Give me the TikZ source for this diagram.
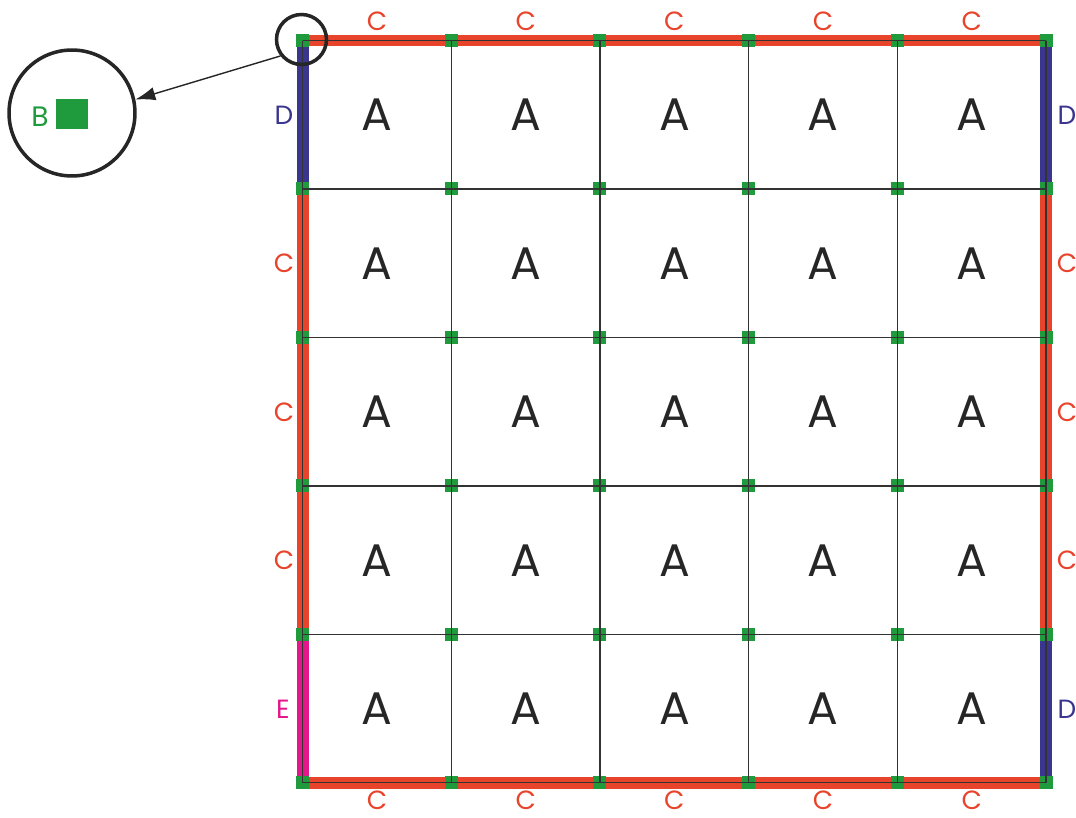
\documentclass[tikz,border=0pt]{standalone}
\usepackage{fontspec}
\setmainfont{Poppins}
\usetikzlibrary{arrows.meta}
\definecolor{cred}{HTML}{E8432B}
\definecolor{cblue}{HTML}{3A3690}
\definecolor{cpink}{HTML}{E5168B}
\definecolor{cgreen}{HTML}{1F9B3E}

\begin{document}
\begin{tikzpicture}[x=0.02cm,y=-0.02cm,
	band/.style={line width=0.24cm,draw=#1},
	gridline/.style={line width=0.8pt,draw=black!80},
	jnt/.style={fill=cgreen,inner sep=0pt,minimum size=0.26cm},
	cell/.style={font=\fontsize{26}{26}\selectfont,text=black!85},
	tag/.style={font=\fontsize{15}{15}\selectfont,text=#1,inner sep=0pt},
	lens/.style={circle,draw=black!85,line width=2pt,inner sep=0pt,minimum size=#1}]
	\useasboundingbox (0,0) rectangle (1076,818);
	% grid points
	\foreach \i in {0,...,5}
		\foreach \j in {0,...,5}
			\coordinate (p\i\j) at ({302.5+148.7*\i},{40.5+148.45*\j});
	% outer bands
	\draw[band=cred] (p00) -- (p50);
	\draw[band=cred] (p05) -- (p55);
	\draw[band=cblue] (p00) -- (p01);
	\draw[band=cred] (p01) -- (p04);
	\draw[band=cpink] (p04) -- (p05);
	\draw[band=cblue] (p50) -- (p51);
	\draw[band=cred] (p51) -- (p54);
	\draw[band=cblue] (p54) -- (p55);
	% joints
	\foreach \i in {0,...,5}
		\foreach \j in {0,...,5}
			\node[jnt] (j\i\j) at (p\i\j) {};
	% grid lines
	\foreach \i in {0,...,5} {
		\draw[gridline] (p\i0) -- (p\i5);
		\draw[gridline] (p0\i) -- (p5\i);
	}
	% cells
	\foreach \i in {0,...,4}
		\foreach \j in {0,...,4}
			\node[cell] (a\i\j) at ({377+148.7*\i},{115+148.45*\j}) {A};
	% edge tags
	\foreach \i in {0,...,4} {
		\node[tag=cred] (ctop\i) at ({377+148.7*\i},21) {C};
		\node[tag=cred] (cbot\i) at ({377+148.7*\i},800) {C};
	}
	\node[tag=cblue] (lft0) at (284,115) {D};
	\node[tag=cred] (lft1) at (284,263.5) {C};
	\node[tag=cred] (lft2) at (284,412) {C};
	\node[tag=cred] (lft3) at (284,560.5) {C};
	\node[tag=cpink] (lft4) at (283,709) {E};
	\node[tag=cblue] (rgt0) at (1067,115) {D};
	\node[tag=cred] (rgt1) at (1067,263.5) {C};
	\node[tag=cred] (rgt2) at (1067,412) {C};
	\node[tag=cred] (rgt3) at (1067,560.5) {C};
	\node[tag=cblue] (rgt4) at (1067,709) {D};
	% detail lens
	\node[lens=1.0cm] (zoomsrc) at (301.5,39.5) {};
	\node[lens=2.52cm] (zoombig) at (72,113) {};
	\node[fill=cgreen,inner sep=0pt,minimum width=0.64cm,minimum height=0.6cm] (bsq) at (72,114) {};
	\node[tag=cgreen,font=\fontsize{16}{16}\selectfont] (btag) at (40,117) {B};
	\draw[-{Latex[length=0.4cm,width=0.27cm]},line width=0.8pt,draw=black!85] (zoomsrc.218) -- (zoombig.12);
\end{tikzpicture}
\end{document}
